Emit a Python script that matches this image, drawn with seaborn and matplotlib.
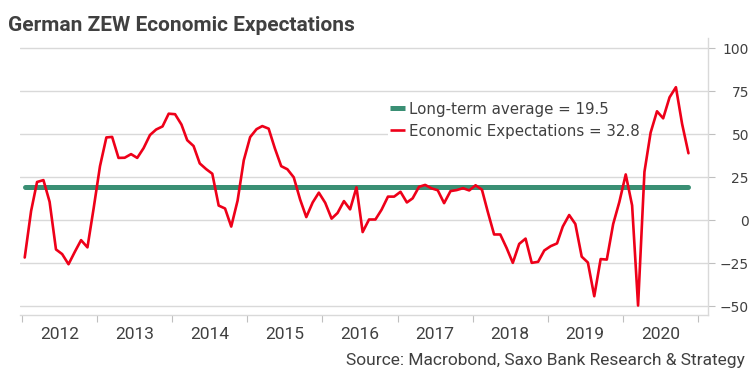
import matplotlib.dates as mdates
import matplotlib.pyplot as plt
import numpy as np
import pandas as pd
import seaborn as sns

#%% data: German ZEW economic expectations, monthly Jan 2012 - Nov 2020
zew_2012 = [-21.6, 5.4, 22.3, 23.4, 10.8, -16.9, -19.6, -25.5, -18.2, -11.5, -15.7, 6.9]
zew_2013 = [31.5, 48.2, 48.5, 36.3, 36.4, 38.5, 36.3, 42.0, 49.6, 52.8, 54.6, 62.0]
zew_2014 = [61.7, 55.7, 46.6, 43.2, 33.1, 29.8, 27.1, 8.6, 6.9, -3.6, 11.5, 34.9]
zew_2015 = [48.4, 53.0, 54.8, 53.3, 41.9, 31.5, 29.7, 25.0, 12.1, 1.9, 10.4, 16.1]
zew_2016 = [10.2, 1.0, 4.3, 11.2, 6.4, 19.2, -6.8, 0.5, 0.5, 6.2, 13.8, 13.8]
zew_2017 = [16.6, 10.4, 12.8, 19.5, 20.6, 18.6, 17.5, 10.0, 17.0, 17.6, 18.7, 17.4]
zew_2018 = [20.4, 17.8, 5.1, -8.2, -8.2, -16.1, -24.7, -13.7, -10.6, -24.7, -24.1, -17.5]
zew_2019 = [-15.0, -13.4, -3.6, 3.1, -2.1, -21.1, -24.5, -44.1, -22.5, -22.8, -2.1, 10.7]
zew_2020 = [26.7, 8.7, -49.5, 28.2, 51.0, 63.4, 59.3, 71.5, 77.4, 56.1, 39.0]
long_term_avg = 19.5

avg_label = "Long-term average = 19.5"
zew_label = "Economic Expectations = 32.8"
title_txt = "German ZEW Economic Expectations"
source_txt = "Source: Macrobond, Saxo Bank Research & Strategy"
y_ticks = [-50, -25, 0, 25, 50, 75, 100]

zew = zew_2012 + zew_2013 + zew_2014 + zew_2015 + zew_2016 + zew_2017 + zew_2018 + zew_2019 + zew_2020
dates = pd.date_range("2012-01-01", periods=len(zew), freq="MS") + pd.Timedelta(days=14)
df = pd.DataFrame({"date": dates, "zew": zew, "avg": long_term_avg})

#%% style
sns.set_style("white")
plt.rcParams['font.family'] = ['DejaVu Sans']
txt_col = '#404040'
grid_col = '#d9d9d9'
red = '#ee0019'
green = '#3a8f74'
narrow = ['Roboto', 'DejaVu Sans']

fig = plt.figure(figsize=(7.54, 3.78), dpi=100, facecolor='white')
ax = fig.add_axes([0.0265, 0.1667, 0.9125, 0.7328])

sns.lineplot(data=df, x="date", y="avg", ax=ax, color=green, linewidth=3.6, label=avg_label)
sns.lineplot(data=df, x="date", y="zew", ax=ax, color=red, linewidth=1.9, label=zew_label)

ax.set_xlim(pd.Timestamp("2011-12-23"), pd.Timestamp("2021-02-18"))
ax.set_ylim(-55, 106)
ax.set_xlabel("")
ax.set_ylabel("")

# y axis on the right
ax.yaxis.tick_right()
ax.set_yticks(y_ticks)
ax.yaxis.grid(True, color=grid_col, linewidth=1)
ax.tick_params(axis='y', which='major', length=5, color='#bfbfbf', labelsize=10,
               labelcolor=txt_col, pad=24.5, right=True, left=False)
for lbl in ax.get_yticklabels():
    lbl.set_horizontalalignment('right')

# x axis: ticks at year start, labels mid-year
ax.xaxis.set_major_locator(mdates.YearLocator())
ax.xaxis.set_major_formatter(plt.NullFormatter())
ax.xaxis.set_minor_locator(mdates.MonthLocator(bymonth=7))
ax.xaxis.set_minor_formatter(mdates.DateFormatter('%Y'))
ax.tick_params(axis='x', which='major', length=5, color='#bfbfbf', bottom=True)
ax.tick_params(axis='x', which='minor', length=0, pad=9, labelsize=12.5, labelcolor=txt_col)
for lbl in ax.xaxis.get_minorticklabels():
    lbl.set_family(narrow)

for s in ['top', 'left']:
    ax.spines[s].set_visible(False)
for s in ['right', 'bottom']:
    ax.spines[s].set_color(grid_col)
    ax.spines[s].set_linewidth(1)

leg = ax.legend(loc='upper left', bbox_to_anchor=(0.535, 0.776), frameon=True, fontsize=10.8,
                handlelength=1.0, handletextpad=0.3, labelspacing=0.47, borderpad=0.1,
                borderaxespad=0)
leg.get_frame().set_facecolor('white')
leg.get_frame().set_edgecolor('none')
leg.get_frame().set_alpha(1)
for t in leg.get_texts():
    t.set_color(txt_col)
for h in leg.get_lines():
    h.set_solid_capstyle('butt')

fig.text(8 / 754, 1 - 31 / 378, title_txt, fontsize=15, fontweight='bold', color=txt_col,
         ha='left', va='baseline', family=narrow)
fig.text(745 / 754, 1 - 365 / 378, source_txt, fontsize=12.5, color=txt_col, ha='right',
         va='baseline', family=narrow)

plt.savefig("out.png", dpi=100, facecolor='white')
